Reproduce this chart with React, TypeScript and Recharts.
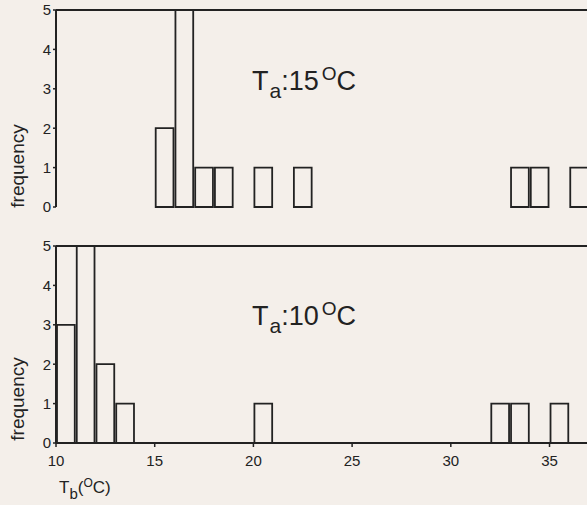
import React from "react"
import { Bar, BarChart, ReferenceLine, XAxis, YAxis } from "recharts"

// histogram bins: start of each 1 °C bin
const binStarts = [10, 11, 12, 13, 14, 15, 16, 17, 18, 19, 20, 21, 22, 23, 24, 25, 26, 27, 28, 29, 30, 31, 32, 33, 34, 35, 36]
const countsTa15 = [0, 0, 0, 0, 0, 2, 5, 1, 1, 0, 1, 0, 1, 0, 0, 0, 0, 0, 0, 0, 0, 0, 0, 1, 1, 0, 1]
const countsTa10 = [3, 5, 2, 1, 0, 0, 0, 0, 0, 0, 1, 0, 0, 0, 0, 0, 0, 0, 0, 0, 0, 0, 1, 1, 0, 1, 0]
const xTicks = [10, 15, 20, 25, 30, 35]
const yTicks = [0, 1, 2, 3, 4, 5]

const ink = "#222"
const bg = "#f4efea"
const font = "'Liberation Sans', Arial, sans-serif"

const CHART_W = 589
const AXIS_W = 56
const barW = (CHART_W - AXIS_W) / binStarts.length

const toData = (counts: number[]) => binStarts.map((b, i) => ({ mid: b + 0.5, count: counts[i] }))

const dataTop = toData(countsTa15)
const dataBottom = toData(countsTa10)

// plot area is 197px tall; 20px of margin above it keeps the "5" label inside the svg
function Panel({ data, showX }: { data: { mid: number; count: number }[]; showX: boolean }) {
  return (
    <BarChart
      width={CHART_W}
      height={showX ? 250 : 227}
      data={data}
      margin={{ top: 20, right: 0, bottom: showX ? 3 : 10, left: 0 }}
      style={{ fontFamily: font, overflow: "visible" }}
    >
      <XAxis
        type="number"
        dataKey="mid"
        domain={[10, 37]}
        ticks={xTicks}
        allowDataOverflow
        height={showX ? 30 : 0}
        tick={showX ? { fill: ink, fontSize: 15 } : false}
        tickLine={showX ? { stroke: ink, strokeWidth: 1.5 } : false}
        tickSize={4}
        tickMargin={8}
        axisLine={{ stroke: ink, strokeWidth: 2 }}
      />
      <YAxis
        domain={[0, 5]}
        ticks={yTicks}
        width={AXIS_W}
        tick={{ fill: ink, fontSize: 15 }}
        tickLine={{ stroke: ink, strokeWidth: 1.5 }}
        tickSize={3}
        tickMargin={2}
        axisLine={{ stroke: ink, strokeWidth: 2 }}
      />
      <ReferenceLine y={5} stroke={ink} strokeWidth={2} />
      <Bar dataKey="count" barSize={barW} fill="none" stroke={ink} strokeWidth={1.8} isAnimationActive={false} />
    </BarChart>
  )
}

function TaLabel({ y, value }: { y: number; value: string }) {
  return (
    <text x={252} y={y} fontSize={27} fill={ink} fontFamily={font}>
      T
      <tspan dx={1} dy={8} fontSize={21}>a</tspan>
      <tspan dy={-8}>:{value}</tspan>
      <tspan dx={3} dy={-10} fontSize={19}>O</tspan>
      <tspan dy={10}>C</tspan>
    </text>
  )
}

export default function App() {
  return (
    <div style={{ position: "absolute", left: 0, top: 0, width: 587, height: 505, overflow: "hidden", background: bg }}>
      <div style={{ position: "absolute", left: 0, top: -10 }}>
        <Panel data={dataTop} showX={false} />
      </div>
      <div style={{ position: "absolute", left: 0, top: 226 }}>
        <Panel data={dataBottom} showX={true} />
      </div>
      <svg width={587} height={505} style={{ position: "absolute", left: 0, top: 0, pointerEvents: "none" }}>
        <text x={24} y={166} transform="rotate(-90, 24, 166)" textAnchor="middle" fontSize={19} fill={ink} fontFamily={font}>
          frequency
        </text>
        <text x={24} y={399} transform="rotate(-90, 24, 399)" textAnchor="middle" fontSize={19} fill={ink} fontFamily={font}>
          frequency
        </text>
        <TaLabel y={90} value="15" />
        <TaLabel y={325} value="10" />
        <text x={59} y={493} fontSize={17} fill={ink} fontFamily={font}>
          T
          <tspan dy={6} fontSize={15}>b</tspan>
          <tspan dy={-6}>(</tspan>
          <tspan dy={-6} fontSize={12}>O</tspan>
          <tspan dy={6}>C)</tspan>
        </text>
      </svg>
    </div>
  )
}
